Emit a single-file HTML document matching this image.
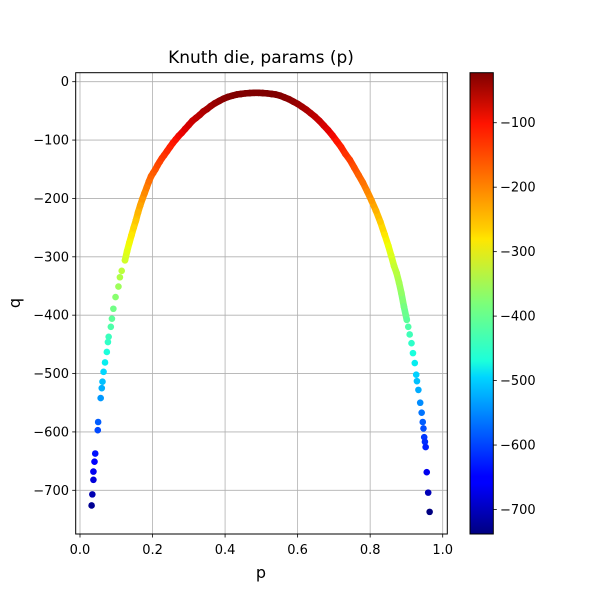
<!DOCTYPE html>
<html><head><meta charset="utf-8"><style>
body{margin:0;background:#fff}
svg{display:block;font-family:"DejaVu Sans","Liberation Sans",sans-serif}
</style></head><body>
<svg id="chart" width="600" height="600" viewBox="0 0 600 600">
<defs><linearGradient id="jet" x1="0" y1="1" x2="0" y2="0">
<stop offset="0" stop-color="#000080"/><stop offset="0.11" stop-color="#0000ff"/><stop offset="0.125" stop-color="#0000ff"/>
<stop offset="0.34" stop-color="#00d5ff"/><stop offset="0.375" stop-color="#1cffdb"/><stop offset="0.5" stop-color="#7cff79"/>
<stop offset="0.64" stop-color="#ffe600"/><stop offset="0.66" stop-color="#ffd000"/><stop offset="0.89" stop-color="#ff1300"/><stop offset="1" stop-color="#800000"/>
</linearGradient></defs>
<rect x="0" y="0" width="600" height="600" fill="#fff"/>
<g id="grid"></g>
<g id="points"></g>
<rect x="75.7" y="72.7" width="371.6" height="461.3" fill="none" stroke="#000" stroke-width="1"/>
<g id="axes"></g>
<text x="261" y="63" font-size="17" text-anchor="middle">Knuth die, params (p)</text>
<text x="261" y="578" font-size="16" text-anchor="middle">p</text>
<text x="20" y="303" font-size="16" text-anchor="middle" transform="rotate(-90 20 303)">q</text>
<rect x="470" y="72.7" width="23.3" height="461.3" fill="url(#jet)" stroke="#000" stroke-width="1"/>
<g id="cbar"></g>
</svg>
<script>
const pValues=[0.032,0.034,0.037,0.037,0.040,0.042,0.049,0.050,0.057,0.060,0.062,0.065,0.069,0.074,0.077,0.079,0.085,0.088,0.092,0.098,0.106,0.110,0.115,0.124,
0.13,0.136,0.142,0.148,0.154,0.160,0.166,0.172,0.178,0.184,0.190,0.196,0.202,0.208,0.214,0.220,0.226,0.232,0.240,0.248,0.256,0.264,0.272,0.280,0.290,0.300,0.310,0.320,0.330,0.340,0.350,0.360,0.372,0.384,0.396,0.408,0.420,0.432,0.444,0.456,0.468,0.480,0.492,0.504,0.516,0.528,0.540,0.552,0.564,0.576,0.588,0.600,0.612,0.624,0.636,0.648,0.660,0.672,0.684,0.696,0.708,0.720,0.732,0.744,0.756,0.768,0.780,0.792,0.804,0.816,0.828,0.840,0.850,0.858,0.866,0.873,0.880,0.886,0.893,0.901,0.905,0.909,
0.914,0.918,0.923,0.927,0.929,0.933,0.938,0.942,0.945,0.947,0.949,0.951,0.953,0.956,0.960,0.964];
const qValues=[-726,-707,-682,-668,-651,-637,-597,-583,-542,-525,-514,-497,-481,-463,-446,-437,-420,-406,-389,-369,-351,-335,-324,-306,
-290,-276,-263,-250,-238,-224,-212,-201,-191,-181,-171,-162,-156,-150,-143,-137,-131,-126,-119,-112,-105,-99,-93,-88,-81,-74,-67,-62,-57,-51,-47,-42,-37,-33,-29,-26,-24,-22,-21,-20,-19.5,-19,-19,-19.5,-20,-21,-22,-24,-27,-30,-34,-38,-43,-48,-54,-60,-67,-75,-83,-92,-102,-112,-124,-134,-147,-160,-173,-188,-204,-221,-240,-262,-281,-298,-316,-328,-345,-362,-385,-408,-420,-433,
-448,-465,-482,-502,-513,-528,-550,-567,-583,-594,-609,-617,-626,-669,-704,-737];
const xTicks=[0.0,0.2,0.4,0.6,0.8,1.0];
const xTickLabels=["0.0","0.2","0.4","0.6","0.8","1.0"];
const yTicks=[0,-100,-200,-300,-400,-500,-600,-700];
const yTickLabels=["0","−100","−200","−300","−400","−500","−600","−700"];
const cTicks=[-100,-200,-300,-400,-500,-600,-700];
const cTickLabels=["−100","−200","−300","−400","−500","−600","−700"];
const cMin=-738, cMax=-22.4;

const NS="http://www.w3.org/2000/svg";
const X=p=>80+p*362.7;
const Y=q=>81.7-q*0.5837;
const CY=q=>534-(q-cMin)/(cMax-cMin)*461.3;
function mk(tag,attrs,parent){const e=document.createElementNS(NS,tag);for(const k in attrs)e.setAttribute(k,attrs[k]);parent.appendChild(e);return e;}
function interp(pts,t){for(let i=1;i<pts.length;i++){if(t<=pts[i][0]){const a=pts[i-1],b=pts[i];return a[1]+(b[1]-a[1])*(t-a[0])/(b[0]-a[0]);}}return pts[pts.length-1][1];}
function jet(t){t=Math.max(0,Math.min(1,t));
const r=interp([[0,0],[0.35,0],[0.66,1],[0.89,1],[1,0.5]],t);
const g=interp([[0,0],[0.125,0],[0.375,1],[0.64,1],[0.91,0],[1,0]],t);
const b=interp([[0,0.5],[0.11,1],[0.34,1],[0.65,0],[1,0]],t);
return `rgb(${Math.round(r*255)},${Math.round(g*255)},${Math.round(b*255)})`;}
const norm=q=>(q-cMin)/(cMax-cMin);
const grid=document.getElementById('grid'),axes=document.getElementById('axes'),pts=document.getElementById('points'),cbar=document.getElementById('cbar');
xTicks.forEach((v,i)=>{const x=X(v);
const gl=mk('line',{x1:x,x2:x,y1:72.7,y2:534,stroke:'#b0b0b0','stroke-width':0.8},grid);


const tk=mk('line',{x1:x,x2:x,y1:534,y2:537.5,stroke:'#000','stroke-width':0.8},axes);


const t=mk('text',{x:x,y:554,'font-size':13,'text-anchor':'middle'},axes);t.textContent=xTickLabels[i];

});
yTicks.forEach((v,i)=>{const y=Y(v);
const gl=mk('line',{x1:75.7,x2:447.3,y1:y,y2:y,stroke:'#b0b0b0','stroke-width':0.8},grid);


const tk=mk('line',{x1:72.2,x2:75.7,y1:y,y2:y,stroke:'#000','stroke-width':0.8},axes);


const t=mk('text',{x:69,y:y+4.5,'font-size':13,'text-anchor':'end'},axes);t.textContent=yTickLabels[i];

});
// dense band: connect neighbouring samples only where the sampling is dense (upper part of the curve)
for(let i=1;i<pValues.length;i++){
  const qa=qValues[i-1],qb=qValues[i],pm=(pValues[i-1]+pValues[i])/2;
  const limit=pm<0.5?-310:-412;
  if(Math.min(qa,qb)<limit) continue;
  const s=mk('line',{x1:X(pValues[i-1]),y1:Y(qa),x2:X(pValues[i]),y2:Y(qb),stroke:jet(norm((qa+qb)/2)),'stroke-width':6.6,'stroke-linecap':'round'},pts);
  
  
}
pValues.forEach((p,i)=>{const q=qValues[i];
const c=mk('circle',{cx:X(p),cy:Y(q),r:3.3,fill:jet(norm(q))},pts);

});
cTicks.forEach((v,i)=>{const y=CY(v);
const tk=mk('line',{x1:493.3,x2:496.8,y1:y,y2:y,stroke:'#000','stroke-width':0.8},cbar);


const t=mk('text',{x:500,y:y+4.5,'font-size':13},cbar);t.textContent=cTickLabels[i];

});
</script>
</body></html>
